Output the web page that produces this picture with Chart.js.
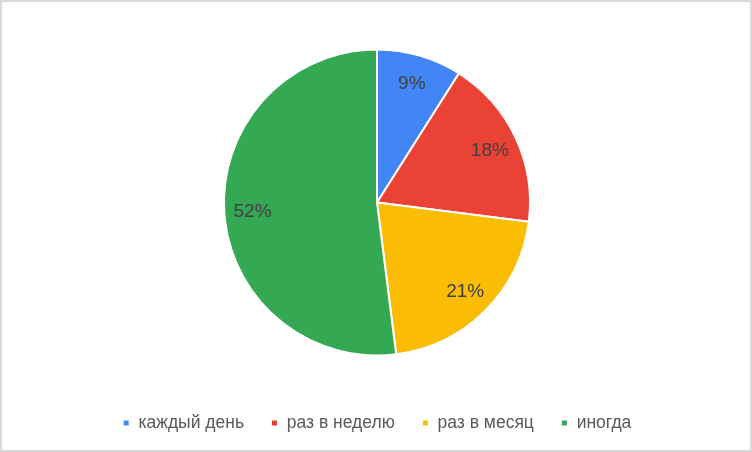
<!DOCTYPE html>
<html>
<head>
<meta charset="utf-8">
<script src="https://cdn.jsdelivr.net/npm/chart.js@4.4.1/dist/chart.umd.min.js"></script>
<style>
  html, body { margin: 0; padding: 0; background: #ffffff; }
  #wrap { position: relative; width: 752px; height: 452px; }
  #c { position: absolute; left: 0; top: 0; }
  #frame { position: absolute; left: 0; top: 0; width: 752px; height: 452px; box-sizing: border-box; border: 2px solid #d9d9d9; pointer-events: none; }
</style>
</head>
<body>
<div id="wrap">
  <canvas id="c" width="752" height="452"></canvas>
  <div id="frame"></div>
</div>
<script>
const categories = ['каждый день', 'раз в неделю', 'раз в месяц', 'иногда'];
const values = [9, 18, 21, 52];
const sliceColors = ['#4285F4', '#EA4335', '#FBBC04', '#34A853'];

const pctLabels = {
  id: 'pctLabels',
  afterDatasetsDraw(chart) {
    const ctx = chart.ctx;
    const meta = chart.getDatasetMeta(0);
    const data = chart.data.datasets[0].data;
    const total = data.reduce((a, b) => a + b, 0);
    ctx.save();
    ctx.font = '19px "Liberation Sans", Arial, sans-serif';
    ctx.fillStyle = '#404040';
    ctx.textAlign = 'center';
    ctx.textBaseline = 'middle';
    meta.data.forEach((arc, i) => {
      const p = arc.getProps(['x', 'y', 'startAngle', 'endAngle', 'outerRadius'], true);
      const mid = (p.startAngle + p.endAngle) / 2;
      const r = p.outerRadius * 0.815;
      const tx = p.x + Math.cos(mid) * r;
      const ty = p.y + Math.sin(mid) * r + 1;
      ctx.fillText(Math.round(data[i] / total * 100) + '%', tx, ty);
    });
    ctx.restore();
  }
};

new Chart(document.getElementById('c'), {
  type: 'pie',
  data: {
    labels: categories,
    datasets: [{
      data: values,
      backgroundColor: sliceColors,
      borderColor: '#ffffff',
      borderWidth: 2,
      radius: 153
    }]
  },
  options: {
    responsive: false,
    animation: false,
    devicePixelRatio: 1,
    layout: { padding: { top: 17.75, bottom: 10.25, left: 2, right: 0 } },
    plugins: {
      tooltip: { enabled: false },
      legend: {
        position: 'bottom',
        labels: {
          boxWidth: 7,
          boxHeight: 7,
          padding: 27,
          color: '#595959',
          font: { family: '"Liberation Sans", Arial, sans-serif', size: 17.5 }
        }
      }
    }
  },
  plugins: [pctLabels]
});
</script>
</body>
</html>
